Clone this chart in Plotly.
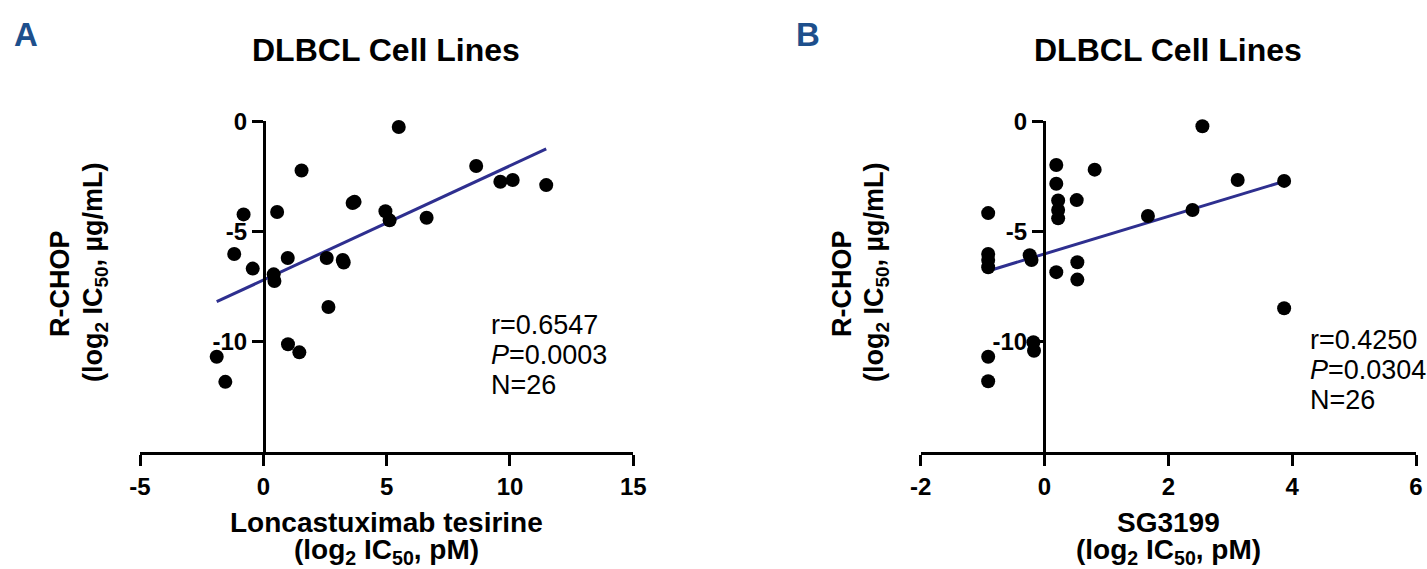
import numpy as np
import plotly.graph_objects as go

# ---------------- data ----------------
# Panel A: Loncastuximab tesirine vs R-CHOP (log2 IC50)
lonca_x = [5.49, 1.55, -0.80, 0.56, 3.62, 3.70, 4.95, 5.12, 6.62, -1.18, 0.99, -0.43, 0.42,
           0.45, 2.57, 3.26, 3.22, 2.64, 1.00, 1.46, -1.89, -1.54, 8.63, 9.61, 10.11, 11.47]
lonca_y = [-0.26, -2.24, -4.23, -4.12, -3.71, -3.66, -4.09, -4.50, -4.38, -6.03, -6.21, -6.69, -6.95,
           -7.25, -6.21, -6.41, -6.30, -8.43, -10.12, -10.49, -10.69, -11.83, -2.03, -2.75, -2.67, -2.90]

# Panel B: SG3199 vs R-CHOP (log2 IC50)
sg_x = [0.19, 0.81, 0.19, 0.22, 0.52, 0.22, 0.22, -0.91, -0.91, -0.91, -0.91, -0.24, -0.21,
        0.19, 0.53, 0.53, -0.18, -0.17, -0.91, -0.91, 1.67, 2.55, 3.12, 3.87, 2.39, 3.87]
sg_y = [-1.99, -2.20, -2.84, -3.60, -3.58, -4.03, -4.41, -4.17, -6.03, -6.30, -6.63, -6.08, -6.30,
        -6.85, -6.40, -7.19, -10.03, -10.42, -10.69, -11.80, -4.30, -0.23, -2.67, -2.71, -4.03, -8.49]

stats_a = ["r=0.6547", "<i>P</i>=0.0003", "N=26"]
stats_b = ["r=0.4250", "<i>P</i>=0.0304", "N=26"]

xticks_a = [-5, 0, 5, 10, 15]
xticks_b = [-2, 0, 2, 4, 6]
yticks = [0, -5, -10]

# ---------------- layout helpers ----------------
W, H = 1427, 569
FONT = "Liberation Sans, Arial, Helvetica, sans-serif"
LINE_COL = "#2e2f8f"

def fx(px):
    return px / W

def fy(py):
    return 1 - py / H

fig = go.Figure()

def fit_line(xs, ys):
    xs = np.array(xs); ys = np.array(ys)
    m, b = np.polyfit(xs, ys, 1)
    xl = np.array([xs.min(), xs.max()])
    return xl, m * xl + b

for xs, ys, xa, ya in [(lonca_x, lonca_y, "x", "y"), (sg_x, sg_y, "x2", "y2")]:
    xl, yl = fit_line(xs, ys)
    fig.add_trace(go.Scatter(x=xl, y=yl, mode="lines", xaxis=xa, yaxis=ya,
                             line=dict(color=LINE_COL, width=3), hoverinfo="skip"))
    fig.add_trace(go.Scatter(x=xs, y=ys, mode="markers", xaxis=xa, yaxis=ya,
                             marker=dict(color="black", size=14), cliponaxis=False))

ydom = [fy(451.7), fy(121.2)]
axis_common = dict(showgrid=False, zeroline=False, showline=True, linecolor="black", linewidth=3,
                   ticks="outside", ticklen=11, tickwidth=3, tickcolor="black",
                   tickfont=dict(family=FONT, size=24, color="black"), automargin=False)

fig.update_layout(
    width=W, height=H, margin=dict(l=0, r=0, t=0, b=0),
    paper_bgcolor="white", plot_bgcolor="white", showlegend=False,
    xaxis=dict(domain=[fx(140), fx(633.3)], range=[-5, 15], tickvals=xticks_a,
               ticktext=[f"<b>{v}</b>" for v in xticks_a], anchor="y", **axis_common),
    yaxis=dict(domain=ydom, range=[-15, 0], tickvals=yticks,
               ticktext=[f"<b>{v}</b>" for v in yticks], anchor="free", position=fx(264), **axis_common),
    xaxis2=dict(domain=[fx(920.7), fx(1416)], range=[-2, 6], tickvals=xticks_b,
                ticktext=[f"<b>{v}</b>" for v in xticks_b], anchor="y2", **axis_common),
    yaxis2=dict(domain=ydom, range=[-15, 0], tickvals=yticks,
                ticktext=[f"<b>{v}</b>" for v in yticks], anchor="free", position=fx(1044), **axis_common),
)

def ann(text, x, y, size, bold=False, color="black", angle=0, xanchor="center", family=FONT):
    fig.add_annotation(text=(f"<b>{text}</b>" if bold else text), x=fx(x), y=fy(y),
                       xref="paper", yref="paper", showarrow=False, textangle=angle,
                       xanchor=xanchor, yanchor="middle",
                       font=dict(family=family, size=size, color=color))

# panel letters
ann("A", 26, 34, 33, bold=True, color="#1d4f8c", family="Liberation Sans Narrow, " + FONT)
ann("B", 808, 34, 33, bold=True, color="#1d4f8c", family="Liberation Sans Narrow, " + FONT)

# titles
ann("DLBCL Cell Lines", 386, 50, 32, bold=True)
ann("DLBCL Cell Lines", 1168, 50, 32, bold=True)

# y axis titles
for x1, x2 in [(60, 95), (842, 876)]:
    ann("R-CHOP", x1, 284, 27, bold=True, angle=-90)
    ann("(log<sub>2</sub> IC<sub>50</sub>, µg/mL)", x2, 272, 27, bold=True, angle=-90)

# x axis titles
ann("Loncastuximab tesirine", 386, 522, 28, bold=True)
ann("(log<sub>2</sub> IC<sub>50</sub>, pM)", 386, 551, 28, bold=True)
ann("SG3199", 1168, 522, 28, bold=True)
ann("(log<sub>2</sub> IC<sub>50</sub>, pM)", 1168, 551, 28, bold=True)

# stats
for i, t in enumerate(stats_a):
    ann(t, 489, 325 + 30 * i, 27, xanchor="left")
for i, t in enumerate(stats_b):
    ann(t, 1308, 340 + 30 * i, 27, xanchor="left")

fig.write_html("out.html", config={"displayModeBar": False},
               post_script="document.body.style.margin='0';")
